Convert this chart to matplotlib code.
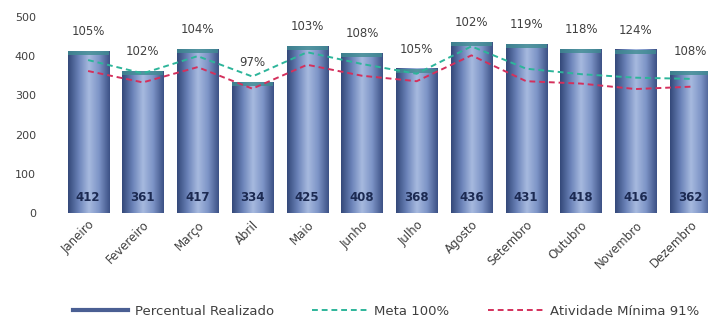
import numpy as np
import matplotlib

matplotlib.use("Agg")
import matplotlib.pyplot as plt
from matplotlib.colors import LinearSegmentedColormap
from matplotlib.lines import Line2D

meses = ["Janeiro", "Fevereiro", "Março", "Abril", "Maio", "Junho", "Julho",
         "Agosto", "Setembro", "Outubro", "Novembro", "Dezembro"]
realizado = [412, 361, 417, 334, 425, 408, 368, 436, 431, 418, 416, 362]
percentual = ["105%", "102%", "104%", "97%", "103%", "108%", "105%", "102%",
              "119%", "118%", "124%", "108%"]
meta = [390, 356, 400, 348, 410, 380, 355, 425, 368, 354, 345, 342]
minima = [362, 333, 372, 317, 378, 350, 336, 402, 336, 330, 316, 322]

BAR_W = 0.75
grad = LinearSegmentedColormap.from_list(
    "cyl", ["#34497a", "#6a82b8", "#a7badf", "#7c93c6", "#3d5286"])

fig = plt.figure(figsize=(7.08, 3.26), dpi=100)
ax = fig.add_axes([0.078, 0.347, 0.922, 0.601])
x = np.arange(len(meses))

# bars drawn as horizontal gradients (cylinder look)
g = np.linspace(0, 1, 64).reshape(1, -1)
for xi, v in zip(x, realizado):
    ax.imshow(g, cmap=grad, aspect="auto", extent=(xi - BAR_W / 2, xi + BAR_W / 2, 0, v),
              zorder=2, interpolation="bilinear")
    ax.add_patch(plt.Rectangle((xi - BAR_W / 2, v - 10), BAR_W, 10, color="#3f8c92",
                               alpha=0.8, lw=0, zorder=2.5))
    ax.text(xi, 40, str(v), ha="center", va="center", fontsize=8.5, fontweight="bold",
            color="#1c2a52", zorder=5)

for xi, v, p in zip(x, realizado, percentual):
    ax.text(xi, v + 50, p, ha="center", va="center", fontsize=8.5,
            color="#404040", zorder=6, clip_on=False)

ax.plot(x, meta, color="#2db59a", ls=(0, (3, 2)), lw=1.4, zorder=4)
ax.plot(x, minima, color="#d4305c", ls=(0, (3, 2)), lw=1.4, zorder=4)

ax.set_xlim(-0.6, 11.32)
ax.set_ylim(0, 500)
ax.set_yticks(range(0, 501, 100))
ax.set_xticks(x)
ax.set_xticklabels(meses, rotation=45, ha="right", rotation_mode="anchor",
                   fontsize=8.5, color="#404040")
ax.tick_params(axis="y", labelsize=8, labelcolor="#404040", length=0, pad=14)
ax.tick_params(axis="x", length=0, pad=4)
for s in ax.spines.values():
    s.set_visible(False)

handles = [Line2D([], [], color="#4a5f93", lw=3),
           Line2D([], [], color="#2db59a", ls=(0, (3, 2)), lw=1.4),
           Line2D([], [], color="#d4305c", ls=(0, (3, 2)), lw=1.4)]
fig.legend(handles, ["Percentual Realizado", "Meta 100%", "Atividade Mínima 91%"],
           loc="center", bbox_to_anchor=(0.545, 0.045), ncol=3, frameon=False,
           fontsize=9.5, handlelength=4.2, handletextpad=0.5, columnspacing=2.9,
           labelcolor="#404040")

fig.savefig("out.png", dpi=100)
